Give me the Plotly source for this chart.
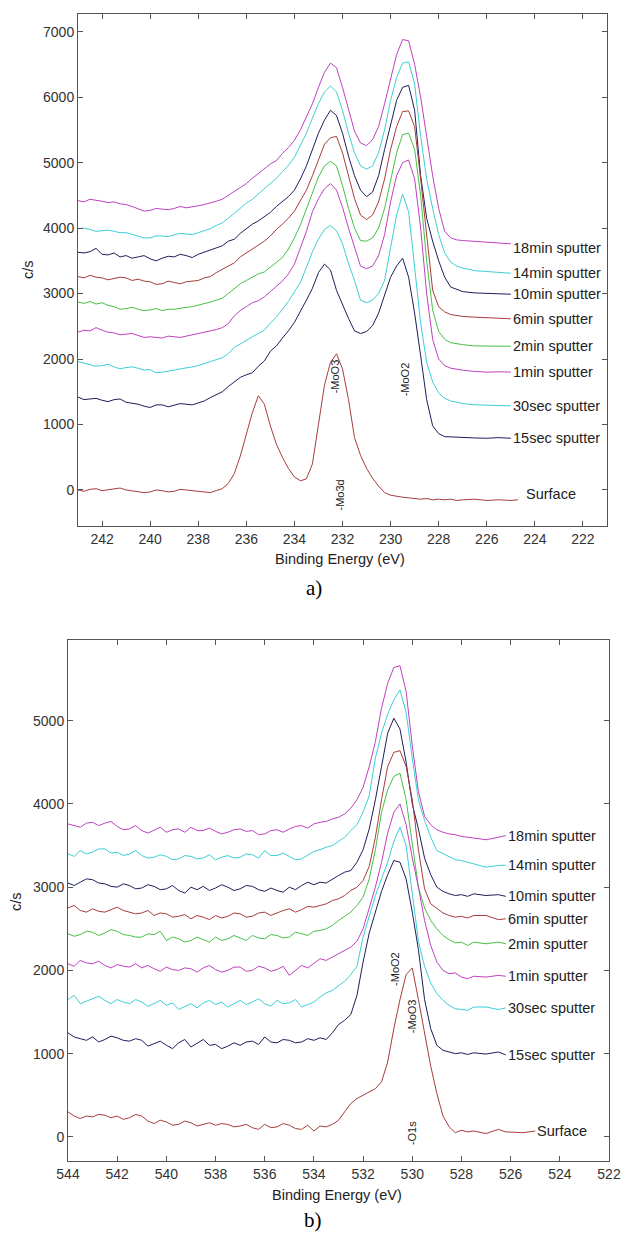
import plotly.graph_objects as go

# ---------------- Panel a) Mo3d ----------------
energy_a = [243.0, 242.75, 242.5, 242.25, 242.0, 241.75, 241.5, 241.25, 241.0, 240.75, 240.5, 240.25,
            240.0, 239.75, 239.5, 239.25, 239.0, 238.75, 238.5, 238.25, 238.0, 237.75, 237.5, 237.25, 237.0,
            236.75, 236.5, 236.25, 236.0, 235.75, 235.5, 235.25, 235.0, 234.75, 234.5, 234.25, 234.0,
            233.75, 233.5, 233.25, 233.0, 232.75, 232.5, 232.25, 232.0, 231.75, 231.5, 231.25, 231.0,
            230.75, 230.5, 230.25, 230.0, 229.75, 229.5, 229.25, 229.0, 228.75, 228.5, 228.25, 228.0,
            227.75, 227.5, 227.25, 227.0,
            226.5, 226.0, 225.5, 225.0]
surface_energy_a = energy_a + [224.7]

surface_a = [0, -20, 10, 20, -10, 0, 20, 30, 0, -10, -20, -40, -30, 0, -10, -30, -20, 10, 0, -10, -20, -30, -40, -10, 20,
             100, 250, 520, 850, 1180, 1440, 1310, 980, 700, 500, 330, 200,
             140, 170, 400, 1000, 1600, 1950, 2080, 1850, 1380, 800, 530, 330,
             180, 60, -40, -80, -100, -110, -120, -130, -140, -130, -150, -140,
             -150, -140, -160, -150,
             -140, -160, -150, -160, -150]
sec15_a = [1420, 1380, 1390, 1400, 1370, 1350, 1380, 1390, 1340, 1330, 1310, 1280, 1260, 1300, 1300, 1270,
           1290, 1320, 1310, 1300, 1330, 1360, 1410, 1450, 1500,
           1580, 1650, 1720, 1760, 1790, 1890, 1970, 2120, 2200, 2320, 2430, 2560,
           2720, 2900, 3080, 3320, 3450, 3360, 3050, 2820, 2620, 2430, 2390, 2420,
           2510, 2700, 2990, 3250, 3420, 3540, 3250, 2700, 2050, 1380, 980, 860,
           815, 810, 800, 805,
           795, 790, 800, 790]
sec30_a = [1960, 1940, 1920, 1890, 1900, 1920, 1880, 1850, 1870, 1880, 1860, 1830, 1840, 1790, 1800, 1810,
           1830, 1850, 1860, 1880, 1900, 1930, 1950, 1990, 2020,
           2080, 2180, 2230, 2290, 2340, 2390, 2440, 2550, 2640, 2760, 2880, 3030,
           3170, 3400, 3640, 3830, 3980, 4040, 3960, 3760, 3460, 3200, 2900, 2860,
           2900, 3000, 3200, 3700, 4200, 4520, 4250, 3400, 2550, 1950, 1650, 1480,
           1400, 1360, 1340, 1320,
           1300, 1290, 1290, 1285]
min1_a = [2410, 2440, 2430, 2480, 2440, 2410, 2400, 2370, 2380, 2390, 2360, 2330, 2340, 2330, 2320, 2350,
          2340, 2330, 2350, 2370, 2380, 2400, 2420, 2450, 2480,
          2540, 2660, 2740, 2800, 2860, 2890, 2950, 3030, 3110, 3190, 3300, 3450,
          3700, 3950, 4250, 4450, 4600, 4680, 4580, 4320, 4000, 3700, 3420, 3380,
          3420, 3580, 3900, 4400, 4800, 5000, 5040, 4750, 4000, 3000, 2300, 2000,
          1900, 1860, 1840, 1830,
          1810, 1800, 1805, 1800]
min2_a = [2870, 2850, 2880, 2840, 2860, 2820, 2800, 2760, 2770, 2790, 2760, 2740, 2750, 2770, 2740, 2760,
          2760, 2780, 2790, 2800, 2820, 2840, 2870, 2900, 2930,
          3000, 3080, 3150, 3200, 3250, 3300, 3330, 3400, 3480, 3550, 3680, 3850,
          4050, 4300, 4550, 4780, 4950, 5020, 4950, 4650, 4300, 4000, 3810, 3800,
          3850, 4000, 4300, 4750, 5150, 5430, 5450, 5200, 4500, 3500, 2750, 2420,
          2300, 2250, 2230, 2220,
          2200, 2200, 2195, 2195]
min6_a = [3260, 3240, 3280, 3250, 3240, 3210, 3230, 3250, 3240, 3200, 3220, 3190, 3180, 3140, 3150, 3190,
          3170, 3150, 3180, 3190, 3200, 3240, 3260, 3320, 3370,
          3430, 3470, 3560, 3620, 3680, 3740, 3800, 3880, 3980, 4060, 4150, 4260,
          4420, 4580, 4800, 5050, 5280, 5380, 5400, 5150, 4800, 4450, 4200, 4130,
          4200, 4400, 4750, 5200, 5550, 5780, 5790, 5550, 4750, 3900, 3050, 2800,
          2720, 2680, 2660, 2650,
          2640, 2630, 2620, 2615]
min10_a = [3630, 3620, 3640, 3690, 3600, 3590, 3620, 3560, 3580, 3540, 3560, 3580, 3530, 3500, 3540, 3570,
           3560, 3600, 3580, 3550, 3600, 3630, 3660, 3700, 3730,
           3800, 3830, 3920, 3990, 4060, 4110, 4170, 4240, 4330, 4410, 4480, 4580,
           4750, 4950, 5200, 5450, 5650, 5800, 5720, 5450, 5100, 4800, 4580, 4480,
           4550, 4800, 5200, 5600, 5950, 6150, 6180, 5800, 4800, 4150, 3800, 3500,
           3250, 3100, 3060, 3030,
           3010, 3000, 2990, 2990]
min14_a = [3990, 4000, 3980, 3950, 3960, 3970, 3950, 3930, 3930, 3900, 3870, 3850, 3850, 3880, 3880, 3870,
           3900, 3920, 3910, 3900, 3930, 3960, 3990, 4040, 4080,
           4150, 4230, 4300, 4380, 4440, 4520, 4600, 4680, 4760, 4860, 4960, 5080,
           5260, 5450, 5680, 5900, 6080, 6170, 6080, 5800, 5450, 5150, 4950, 4900,
           4950, 5150, 5500, 5950, 6300, 6520, 6540, 6200, 5400, 4750, 4300, 3900,
           3620, 3480, 3420, 3390,
           3350, 3340, 3320, 3310]
min18_a = [4420, 4400, 4440, 4430, 4410, 4390, 4400, 4370, 4360, 4330, 4300, 4260, 4270, 4300, 4290, 4280,
           4300, 4330, 4310, 4320, 4340, 4360, 4380, 4410, 4440,
           4500, 4550, 4610, 4680, 4760, 4830, 4900, 4980, 5030, 5140, 5230, 5340,
           5500, 5700, 5900, 6150, 6380, 6520, 6450, 6150, 5800, 5480, 5300, 5260,
           5350, 5550, 5900, 6300, 6650, 6880, 6860, 6500, 6000, 5400, 4800, 4300,
           3950, 3850, 3820, 3810,
           3800, 3790, 3770, 3760]

# ---------------- Panel b) O1s ----------------
energy_b = [544.0, 543.75, 543.5, 543.25, 543.0, 542.75, 542.5, 542.25, 542.0, 541.75,
            541.5, 541.25, 541.0, 540.75, 540.5, 540.25, 540.0, 539.75, 539.5, 539.25,
            539.0, 538.75, 538.5, 538.25, 538.0, 537.75, 537.5, 537.25, 537.0, 536.75,
            536.5, 536.25, 536.0, 535.75, 535.5, 535.25, 535.0, 534.75, 534.5, 534.25,
            534.0, 533.75, 533.5, 533.25, 533.0, 532.75, 532.5, 532.25, 532.0, 531.75,
            531.5, 531.25, 531.0, 530.75, 530.5, 530.25, 530.0, 529.75, 529.5, 529.25,
            529.0, 528.75, 528.5, 528.25, 528.0, 527.75, 527.5,
            527.0, 526.5, 526.2]
surface_energy_b = energy_b + [525.5, 525.0]

surface_b = [300, 250, 220, 250, 240, 270, 260, 230, 250, 210,
             230, 270, 250, 190, 160, 200, 180, 140, 150, 190,
             170, 130, 150, 170, 140, 160, 150, 120, 130, 150,
             110, 90, 150, 110, 120, 160, 140, 100, 90, 140,
             70, 130, 120, 150, 200, 300, 400, 460, 500, 540,
             580, 660, 900, 1300, 1650, 1950, 2030, 1650, 1250, 850,
             520, 250, 120, 50, 80, 60, 70,
             40, 90, 60, 50, 70]
sec15_b = [1250, 1200, 1180, 1160, 1200, 1140, 1170, 1210, 1190, 1160,
           1150, 1180, 1160, 1090, 1120, 1150, 1100, 1060, 1130, 1170,
           1080, 1120, 1170, 1100, 1110, 1060, 1090, 1130, 1100, 1140,
           1150, 1110, 1200, 1140, 1130, 1170, 1160, 1130, 1140, 1180,
           1160, 1190, 1170, 1250, 1350, 1400, 1470, 1700, 2100, 2450,
           2700, 2950, 3150, 3320, 3300, 3100, 2700, 2250, 1650, 1300,
           1100, 1040, 1020, 1000, 1010, 990, 1010,
           995, 1020, 985]
sec30_b = [1650, 1700, 1600, 1630, 1660, 1690, 1640, 1600, 1650, 1620,
           1600, 1650, 1620, 1570, 1600, 1640, 1580, 1610, 1530, 1570,
           1600, 1550, 1610, 1640, 1590, 1620, 1560, 1600, 1640, 1590,
           1620, 1660, 1600, 1570, 1640, 1600, 1610, 1650, 1560, 1590,
           1620, 1680, 1730, 1760, 1820, 1870, 1950, 2050, 2400, 2650,
           2900, 3100, 3300, 3550, 3720, 3500, 2950, 2350, 2050, 1850,
           1720, 1640, 1580, 1540, 1530, 1520, 1560,
           1560, 1530, 1550]
min1_b = [2080, 2050, 2120, 2090, 2080, 2110, 2060, 2030, 2070, 2050,
          2040, 2080, 2030, 2060, 2020, 1990, 2040, 2010, 2000, 2030,
          2020, 1980, 2030, 2060, 2010, 1980, 2000, 2040, 2040, 1990,
          2000, 2050, 2030, 1990, 2010, 2050, 1940, 2000, 2060, 2030,
          2080, 2140, 2120, 2160, 2200, 2240, 2280, 2350, 2500, 2750,
          3000, 3300, 3650, 3900, 4000, 3750, 3350, 3000, 2600, 2300,
          2100, 2000, 1960, 1970, 1920, 1900, 1930,
          1920, 1940, 1930]
min2_b = [2440, 2410, 2430, 2470, 2460, 2420, 2450, 2490, 2470, 2430,
          2420, 2400, 2400, 2440, 2430, 2470, 2360, 2400, 2380, 2340,
          2360, 2400, 2370, 2340, 2400, 2360, 2380, 2420, 2390, 2360,
          2420, 2390, 2380, 2430, 2420, 2390, 2400, 2460, 2440, 2420,
          2470, 2480, 2500, 2540, 2600, 2650, 2700, 2780, 2880, 3100,
          3450, 3900, 4170, 4330, 4370, 4050, 3500, 3000, 2750, 2600,
          2500, 2420, 2370, 2330, 2340, 2300, 2340,
          2320, 2340, 2320]
min6_b = [2750, 2780, 2720, 2700, 2740, 2710, 2700, 2730, 2760, 2720,
          2700, 2680, 2690, 2720, 2660, 2690, 2680, 2640, 2650, 2670,
          2620, 2660, 2640, 2610, 2660, 2630, 2650, 2690, 2680, 2640,
          2650, 2690, 2700, 2660, 2690, 2720, 2740, 2700, 2730, 2770,
          2760, 2780, 2800, 2840, 2860, 2900, 2960, 3000, 3080, 3250,
          3600, 4050, 4450, 4620, 4640, 4450, 4050, 3450, 2980, 2800,
          2740, 2690, 2660, 2640, 2650, 2630, 2660,
          2660, 2610, 2620]
min10_b = [3050, 3020, 3060, 3100, 3090, 3050, 3040, 3010, 3000, 3040,
           3020, 2980, 2990, 3030, 3010, 2970, 2980, 3020, 2960, 2930,
           3000, 2970, 3010, 2960, 2990, 3030, 3000, 2960, 2980, 3020,
           3010, 2970, 2950, 2990, 2960, 2940, 3000, 2970, 3020, 3060,
           3030, 3060, 3050, 3100, 3140, 3180, 3200, 3300, 3450, 3700,
           4050, 4450, 4850, 5030, 4900, 4500, 4000, 3700, 3350, 3150,
           3000, 2950, 2920, 2900, 2910, 2890, 2920,
           2900, 2910, 2890]
min14_b = [3400, 3370, 3440, 3400, 3420, 3460, 3460, 3410, 3420, 3380,
           3400, 3440, 3380, 3350, 3360, 3390, 3370, 3330, 3340, 3380,
           3370, 3340, 3350, 3390, 3330, 3360, 3380, 3350, 3360, 3400,
           3390, 3350, 3440, 3380, 3380, 3410, 3370, 3330, 3340, 3390,
           3430, 3450, 3480, 3500, 3550, 3600, 3680, 3750, 3900, 4100,
           4550, 4850, 5080, 5250, 5370, 5100, 4550, 4050, 3800, 3600,
           3440, 3400, 3360, 3330, 3320, 3300, 3280,
           3240, 3260, 3265]
min18_b = [3760, 3740, 3720, 3770, 3780, 3740, 3770, 3790, 3730, 3690,
           3700, 3740, 3680, 3650, 3690, 3720, 3660, 3690, 3700, 3660,
           3720, 3680, 3680, 3710, 3670, 3640, 3660, 3690, 3700, 3670,
           3680, 3630, 3640, 3680, 3690, 3660, 3700, 3730, 3740, 3710,
           3760, 3780, 3790, 3820, 3840, 3880, 3950, 4050, 4200, 4450,
           4750, 5150, 5450, 5640, 5660, 5350, 4700, 4150, 3850, 3750,
           3690, 3660, 3640, 3630, 3610, 3600, 3590,
           3570, 3600, 3620]

labels = ["18min sputter", "14min sputter", "10min sputter", "6min sputter", "2min sputter",
          "1min sputter", "30sec sputter", "15sec sputter", "Surface"]

ticks_a_x = [242, 240, 238, 236, 234, 232, 230, 228, 226, 224, 222]
ticks_a_y = [0, 1000, 2000, 3000, 4000, 5000, 6000, 7000]
ticks_b_x = [544, 542, 540, 538, 536, 534, 532, 530, 528, 526, 524, 522]
ticks_b_y = [0, 1000, 2000, 3000, 4000, 5000]

# peak tags: (text, energy, count at text start)
tags_a = [("-MoO3", 232.3, 1450), ("-MoO2", 229.4, 1400), ("-Mo3d", 232.1, -350)]
tags_b = [("-MoO2", 530.7, 1790), ("-MoO3", 530.0, 1225), ("-O1s", 530.0, -120)]

# ---------------- styling ----------------
MAGENTA = "#c040c0"
CYAN = "#3ccfd6"
NAVY = "#1e1e5c"
BROWN = "#a83c3c"
GREEN = "#46c046"
colors = [MAGENTA, CYAN, NAVY, BROWN, GREEN, MAGENTA, CYAN, NAVY, BROWN]

W, H = 622, 1236
FONT = "Liberation Sans, Arial, sans-serif"
TXT = "#222222"
AX = "#555555"

fig = go.Figure()

series_a = [min18_a, min14_a, min10_a, min6_a, min2_a, min1_a, sec30_a, sec15_a, surface_a]
series_b = [min18_b, min14_b, min10_b, min6_b, min2_b, min1_b, sec30_b, sec15_b, surface_b]

annotations = []

for vals, col, lab in zip(series_a, colors, labels):
    xs = surface_energy_a if lab == "Surface" else energy_a
    fig.add_trace(go.Scatter(x=xs, y=vals, mode="lines", line=dict(color=col, width=1),
                             xaxis="x", yaxis="y", showlegend=False, hoverinfo="skip"))
    annotations.append(dict(x=xs[-1], y=vals[-1], xref="x", yref="y", text=lab,
                            showarrow=False, xanchor="left", yanchor="middle",
                            xshift=(6 if lab == "Surface" else 0),
                            yshift=(6 if lab == "Surface" else (-4 if lab == "18min sputter" else 0)),
                            font=dict(family=FONT, size=14.5, color=TXT)))

for vals, col, lab in zip(series_b, colors, labels):
    xs = surface_energy_b if lab == "Surface" else energy_b
    fig.add_trace(go.Scatter(x=xs, y=vals, mode="lines", line=dict(color=col, width=1),
                             xaxis="x2", yaxis="y2", showlegend=False, hoverinfo="skip"))
    annotations.append(dict(x=xs[-1], y=vals[-1], xref="x2", yref="y2", text=lab,
                            showarrow=False, xanchor="left", yanchor="middle",
                            font=dict(family=FONT, size=14.5, color=TXT)))

for txt, xv, yv in tags_a:
    annotations.append(dict(x=xv, y=yv, xref="x", yref="y", text=txt, textangle=-90,
                            showarrow=False, xanchor="center", yanchor="bottom",
                            font=dict(family=FONT, size=11, color=TXT)))
for txt, xv, yv in tags_b:
    annotations.append(dict(x=xv, y=yv, xref="x2", yref="y2", text=txt, textangle=-90,
                            showarrow=False, xanchor="center", yanchor="bottom",
                            font=dict(family=FONT, size=11, color=TXT)))


def px(p):
    return p / W


def py(p):
    return 1 - p / H


# axis titles and captions
annotations += [
    dict(x=px(340), y=py(559), xref="paper", yref="paper", text="Binding Energy (eV)",
         showarrow=False, xanchor="center", yanchor="middle",
         font=dict(family=FONT, size=14.5, color=TXT)),
    dict(x=px(28), y=py(270), xref="paper", yref="paper", text="c/s", textangle=-90,
         showarrow=False, xanchor="center", yanchor="middle",
         font=dict(family=FONT, size=14.5, color=TXT)),
    dict(x=px(314), y=py(588), xref="paper", yref="paper", text="a)",
         showarrow=False, xanchor="center", yanchor="middle",
         font=dict(family="Liberation Serif, Times New Roman, serif", size=21, color="#000")),
    dict(x=px(337), y=py(1195), xref="paper", yref="paper", text="Binding Energy (eV)",
         showarrow=False, xanchor="center", yanchor="middle",
         font=dict(family=FONT, size=14.5, color=TXT)),
    dict(x=px(16), y=py(902), xref="paper", yref="paper", text="c/s", textangle=-90,
         showarrow=False, xanchor="center", yanchor="middle",
         font=dict(family=FONT, size=14.5, color=TXT)),
    dict(x=px(313), y=py(1220), xref="paper", yref="paper", text="b)",
         showarrow=False, xanchor="center", yanchor="middle",
         font=dict(family="Liberation Serif, Times New Roman, serif", size=21, color="#000")),
]

axis_common = dict(showgrid=False, zeroline=False, showline=True, linecolor=AX, linewidth=1,
                   mirror="ticks", ticks="inside", ticklen=5, tickcolor=AX, tickwidth=1,
                   automargin=False,
                   tickfont=dict(family=FONT, size=14, color="#333333"))

fig.update_layout(
    template="none",
    width=W, height=H, autosize=False,
    margin=dict(l=0, r=0, t=0, b=0, pad=0, autoexpand=False),
    paper_bgcolor="white", plot_bgcolor="white",
    showlegend=False,
    xaxis=dict(domain=[px(78), px(607)], range=[243, 221], tickvals=ticks_a_x,
               anchor="y", **axis_common),
    yaxis=dict(domain=[py(526), py(14)], range=[-550, 7270], tickvals=ticks_a_y,
               anchor="x", **axis_common),
    xaxis2=dict(domain=[px(68), px(609)], range=[544, 522], tickvals=ticks_b_x,
                anchor="y2", **axis_common),
    yaxis2=dict(domain=[py(1161), py(640)], range=[-290, 5970], tickvals=ticks_b_y,
                anchor="x2", **axis_common),
    annotations=annotations,
)

fig.write_html("out.html",
               config={"displayModeBar": False, "responsive": False},
               post_script="document.body.style.margin='0';document.body.style.overflow='hidden';")
